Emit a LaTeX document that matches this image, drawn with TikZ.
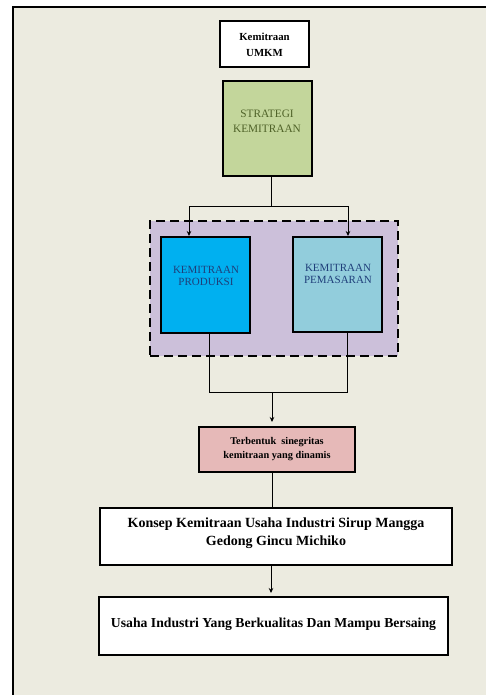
\documentclass[tikz,border=0pt]{standalone}
\usepackage{fontspec}
\setmainfont{Liberation Serif}
\usetikzlibrary{arrows.meta,calc}
\definecolor{bgbeige}{HTML}{ECEBE0}
\definecolor{stratgreen}{HTML}{C3D69B}
\definecolor{grplilac}{HTML}{CCC0DA}
\definecolor{prodblue}{HTML}{00B0F0}
\definecolor{pemblue}{HTML}{92CDDC}
\definecolor{pinkbox}{HTML}{E6B9B8}
\definecolor{olivetext}{HTML}{4F6228}
\definecolor{navytext}{HTML}{1F3F7A}
\tikzset{
  x=1pt,y=1pt,
  boxnode/.style={draw=black,line width=2pt,inner sep=1pt,align=center},
  conn/.style={line width=0.8pt},
  arr/.style={conn,-{Stealth[length=5pt,width=4.5pt]}},
}
\begin{document}
\begin{tikzpicture}
\useasboundingbox (0,0) rectangle (486,-695);
\clip (0,0) rectangle (486,-695);
\fill[white] (0,0) rectangle (486,-695);
\fill[bgbeige] (13,-7) rectangle (500,-710);
\draw[line width=2.2pt] (13,-710) -- (13,-7) -- (500,-7);

% dashed group
\node[draw=black,fill=grplilac,line width=2pt,dash pattern=on 9pt off 5pt,minimum width=248pt,minimum height=135pt,inner sep=0pt] (grp) at (274,-288.5) {};

\node[boxnode,fill=white,minimum width=89pt,minimum height=46pt,font=\bfseries\fontsize{10.8}{16}\selectfont] (umkm) at (264.5,-44.5) {Kemitraan\\UMKM};
\node[boxnode,fill=stratgreen,minimum width=89pt,minimum height=95pt] (strat) at (267,-128.5) {};
\node[text=olivetext,font=\fontsize{11.3}{15}\selectfont,align=center] (strattext) at (267,-121) {STRATEGI\\KEMITRAAN};

\node[boxnode,fill=prodblue,minimum width=89pt,minimum height=96pt] (prod) at (205.5,-285) {};
\node[text=navytext,font=\fontsize{11}{12.5}\selectfont,align=center] (prodtext) at (206,-276) {KEMITRAAN\\PRODUKSI};
\node[boxnode,fill=pemblue,minimum width=89pt,minimum height=95pt] (pem) at (337.5,-284.5) {};
\node[text=navytext,font=\fontsize{11}{12.5}\selectfont,align=center] (pemtext) at (338,-274) {KEMITRAAN\\PEMASARAN};

\node[boxnode,fill=pinkbox,minimum width=156pt,minimum height=45pt,font=\bfseries\fontsize{10.3}{14}\selectfont] (pink) at (277,-449.5) {Terbentuk\ \ sinegritas\\kemitraan yang dinamis};
\node[boxnode,fill=white,minimum width=352pt,minimum height=57pt,font=\bfseries\fontsize{14}{18}\selectfont,anchor=north] (konsep) at (276,-507) {Konsep Kemitraan Usaha Industri Sirup Mangga\\Gedong Gincu Michiko\rule[-9pt]{0pt}{0pt}};
\node[boxnode,fill=white,minimum width=349pt,minimum height=58pt,font=\bfseries\fontsize{13.7}{18}\selectfont] (usaha) at (273.5,-626) {Usaha Industri Yang Berkualitas Dan Mampu Bersaing\rule[-7pt]{0pt}{0pt}};

% connectors
\coordinate (split) at (271,-206);
\coordinate (join) at (272,-392);
\draw[conn] (strat.south -| split) -- (split);
\draw[arr] (split) -| ([xshift=-16.5pt]prod.north);
\draw[arr] (split) -| ([xshift=10.5pt]pem.north);
\draw[conn] ([xshift=3.5pt]prod.south) |- (join);
\draw[conn] ([xshift=9.5pt]pem.south) |- (join);
\draw[arr,shorten >=4pt] (join) -- (join |- pink.north);
\draw[conn] (pink.south -| join) -- (konsep.north -| join);
\draw[arr,shorten >=3pt] ([xshift=-5pt]konsep.south) -- ([xshift=-2.5pt]usaha.north);
\end{tikzpicture}
\end{document}
